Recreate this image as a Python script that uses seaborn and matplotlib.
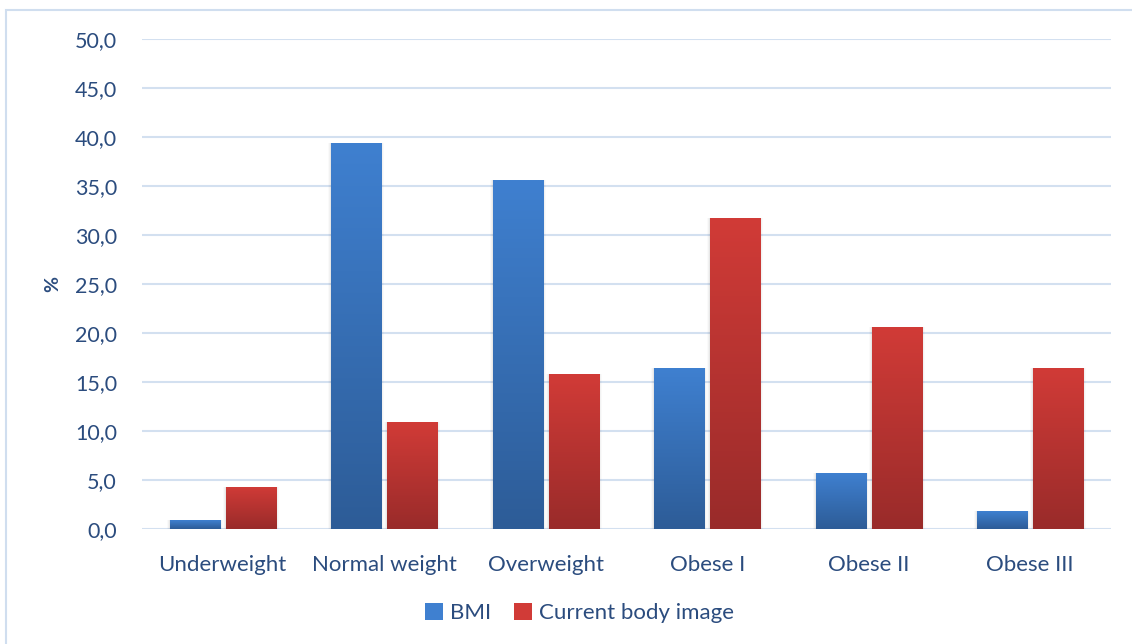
import numpy as np
import pandas as pd
import matplotlib
matplotlib.use("Agg")
import matplotlib.pyplot as plt
from matplotlib.colors import LinearSegmentedColormap
from matplotlib.patches import Rectangle, Patch
import seaborn as sns

categories = ["Underweight", "Normal weight", "Overweight", "Obese I", "Obese II", "Obese III"]
bmi = [0.9, 39.4, 35.6, 16.4, 5.7, 1.8]
body_image = [4.3, 10.9, 15.8, 31.7, 20.6, 16.4]
series_names = ["BMI", "Current body image"]
y_ticks = [0, 5, 10, 15, 20, 25, 30, 35, 40, 45, 50]

df = pd.DataFrame({
    "category": categories * 2,
    "series": [series_names[0]] * len(categories) + [series_names[1]] * len(categories),
    "value": bmi + body_image,
})

text_color = "#2B4C7E"
grid_color = "#D3E0F0"
gradients = {
    series_names[0]: ("#3F80D0", "#2D5C97"),
    series_names[1]: ("#D13B37", "#992B2A"),
}

sns.set_theme(style="white")
plt.rcParams["font.family"] = ["Lato", "DejaVu Sans"]

fig = plt.figure(figsize=(11.32, 6.44), dpi=100)
ax = fig.add_axes([142 / 1132, 1 - 529 / 644, (1111 - 142) / 1132, (529 - 39) / 644])

sns.barplot(data=df, x="category", y="value", hue="series", order=categories,
            hue_order=series_names, palette=[gradients[s][0] for s in series_names],
            width=0.693, gap=0.106, ax=ax, legend=False, zorder=3)

ax.set_ylim(0, 50)
ax.set_xlim(-0.5, len(categories) - 0.5)
ax.set_yticks(y_ticks)
ax.set_yticklabels([f"{t:.1f}".replace(".", ",") for t in y_ticks])
ax.yaxis.grid(True, color=grid_color, linewidth=1.5, zorder=0)
ax.set_axisbelow(True)
for s in ax.spines.values():
    s.set_visible(False)
ax.tick_params(axis="y", length=0, pad=18, labelsize=15.5, labelcolor=text_color)
ax.tick_params(axis="x", length=0, pad=19, labelsize=16, labelcolor=text_color)
ax.set_xlabel("")
ax.set_ylabel("%", fontsize=14, fontweight="bold", color=text_color, labelpad=10)

# vertical gradient fill with a soft shadow for every bar
n = len(categories)
for i, patch in enumerate(ax.patches[: 2 * n]):
    name = series_names[i // n]
    top_c, bot_c = gradients[name]
    x0, y0 = patch.get_x(), patch.get_y()
    w, h = patch.get_width(), patch.get_height()
    for k, a in enumerate([0.045, 0.03, 0.02]):
        d = 0.006 * (k + 1)
        sh = Rectangle((x0 - d, y0 - 0.15 * (k + 1)), w + 2 * d, h + 0.15 * (k + 1),
                       facecolor="black", alpha=a, edgecolor="none", zorder=2)
        ax.add_patch(sh)
    patch.set_facecolor("none")
    patch.set_edgecolor("none")
    cmap = LinearSegmentedColormap.from_list(name, [bot_c, top_c])
    grad = np.linspace(0, 1, 256).reshape(-1, 1)
    im = ax.imshow(grad, extent=[x0, x0 + w, y0, y0 + h], origin="lower",
                   cmap=cmap, aspect="auto", zorder=4)
    im.set_clip_path(patch)
ax.set_xlim(-0.5, len(categories) - 0.5)
ax.set_ylim(0, 50)

handles = [Patch(facecolor=gradients[s][0], edgecolor="none") for s in series_names]
fig.legend(handles, series_names, loc="center", bbox_to_anchor=(0.512, 1 - 613 / 644),
           ncol=2, frameon=False, fontsize=16, labelcolor=text_color,
           handlelength=0.8, handleheight=0.8, handletextpad=0.35, columnspacing=1.0)

# light outer frame
fig.add_artist(Rectangle((6 / 1132, -0.01), 1.2, 1 - 10 / 644 + 0.01,
                         transform=fig.transFigure, fill=False,
                         edgecolor="#D0DEEF", linewidth=1.5))

fig.savefig("out.png", dpi=100, facecolor="white")
